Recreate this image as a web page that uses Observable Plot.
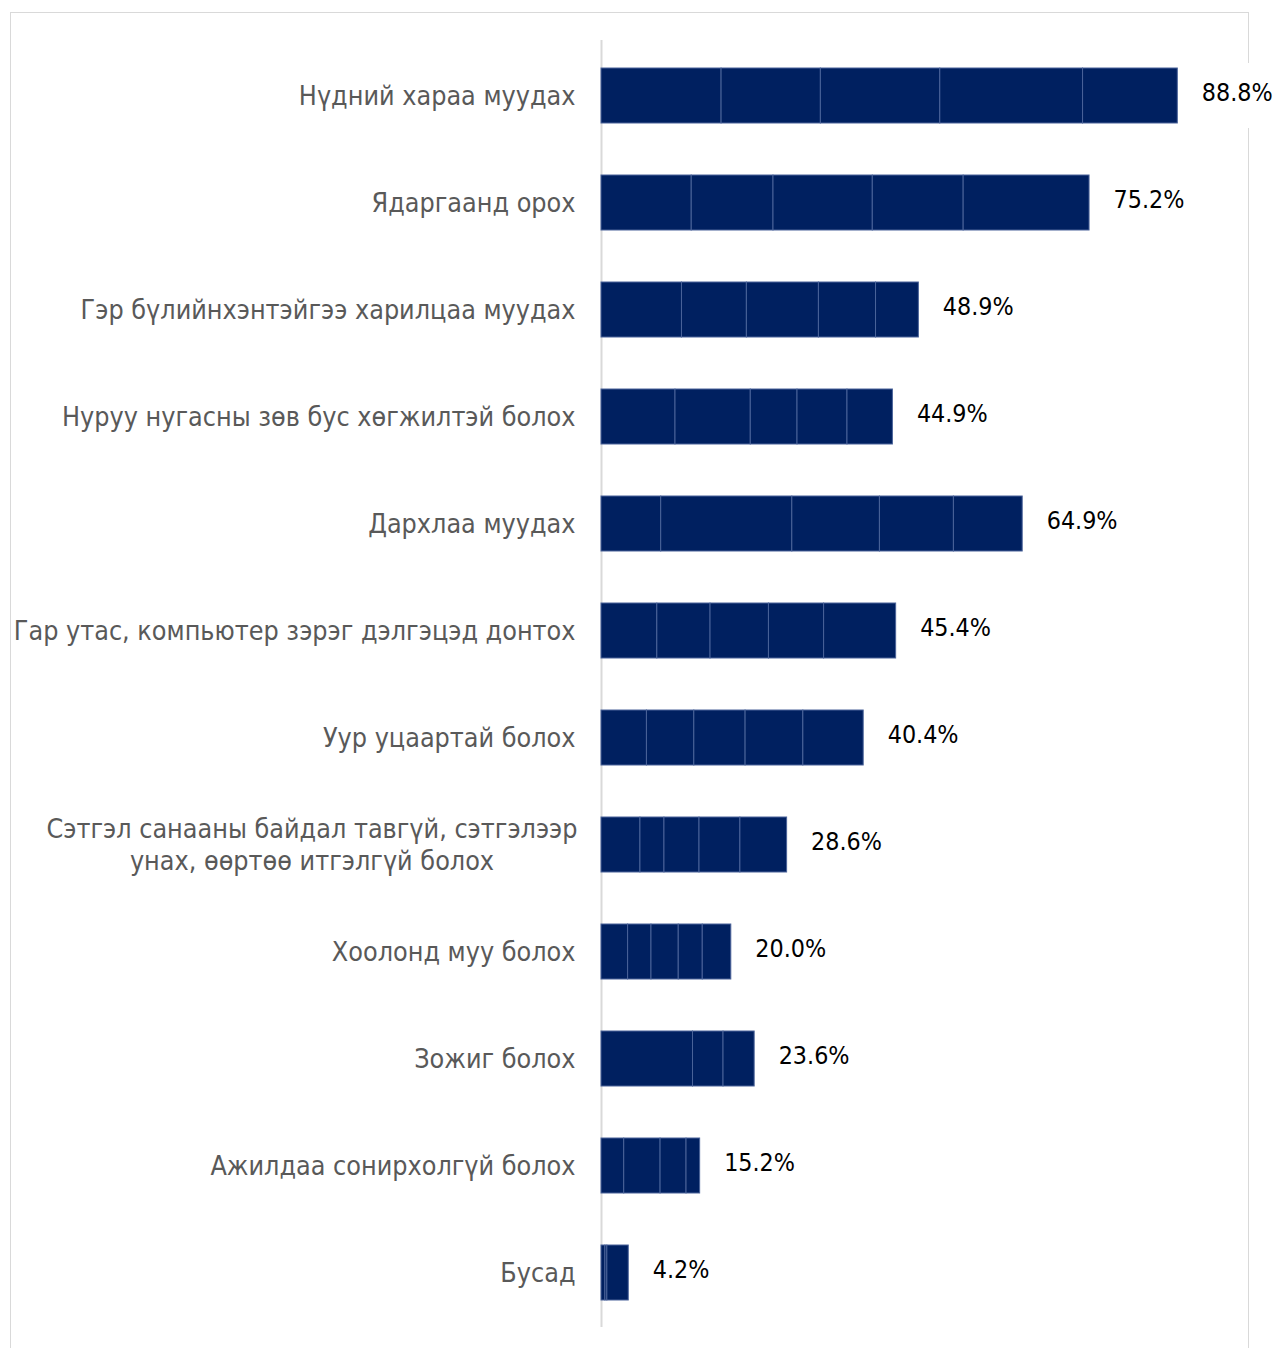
<!DOCTYPE html>
<html>
<head>
<meta charset="utf-8">
<script src="https://cdn.jsdelivr.net/npm/d3@7"></script>
<script src="https://cdn.jsdelivr.net/npm/@observablehq/plot@0.6"></script>
<style>
  html, body { margin: 0; padding: 0; background: white; }
  #wrap { position: relative; width: 1273px; height: 1348px; overflow: hidden; }
  #frame { position: absolute; left: 10px; top: 12px; width: 1239px; height: 1400px;
           border: 1.5px solid #d9d9d9; border-bottom: none; box-sizing: border-box; }
  #chart { position: absolute; left: 0; top: 0; }
</style>
</head>
<body>
<div id="wrap"><div id="frame"></div><div id="chart"></div></div>
<script>
const categories = [
  "Нүдний хараа муудах",
  "Ядаргаанд орох",
  "Гэр бүлийнхэнтэйгээ харилцаа муудах",
  "Нуруу нугасны зөв бус хөгжилтэй болох",
  "Дархлаа муудах",
  "Гар утас, компьютер зэрэг дэлгэцэд донтох",
  "Уур уцаартай болох",
  "Сэтгэл санааны байдал тавгүй, сэтгэлээр\nунах, өөртөө итгэлгүй болох",
  "Хоолонд муу болох",
  "Зожиг болох",
  "Ажилдаа сонирхолгүй болох",
  "Бусад"
];
const totals = [88.8, 75.2, 48.9, 44.9, 64.9, 45.4, 40.4, 28.6, 20.0, 23.6, 15.2, 4.2];
// five stacked segments per bar (read from the segment dividers)
const seg1 = [18.5, 13.9, 12.4, 11.4,  9.2,  8.6, 7.0, 6.0, 4.1, 14.1, 3.5, 0.6];
const seg2 = [15.3, 12.6, 10.0, 11.6, 20.2,  8.2, 7.3, 3.7, 3.6,  0.0, 5.6, 0.3];
const seg3 = [18.4, 15.3, 11.1,  7.2, 13.5,  9.0, 7.9, 5.4, 4.2,  0.0, 4.0, 3.3];
const seg4 = [22.0, 14.0,  8.8,  7.7, 11.4,  8.5, 8.9, 6.3, 3.7,  4.7, 2.1, 0.0];
const seg5 = [14.6, 19.4,  6.6,  7.0, 10.6, 11.1, 9.3, 7.2, 4.4,  4.8, 0.0, 0.0];

const series = [seg1, seg2, seg3, seg4, seg5];
const table = [];
categories.forEach((c, i) => series.forEach((s, k) => table.push({category: c, part: k, value: s[i]})));
const labels = categories.map((c, i) => ({category: c, total: totals[i]}));

const FONT = "DejaVu Sans Condensed";
const LABEL_SIZE = 26.7;
const GAP = 26;
const ctx = document.createElement("canvas").getContext("2d");
ctx.font = `${LABEL_SIZE}px "${FONT}"`;
function blockWidth(t) { return Math.max(...t.split("\n").map(l => ctx.measureText(l).width)); }

const single = categories.filter(c => !c.includes("\n"));
const multi = categories.filter(c => c.includes("\n"));
const mw = multi.length ? blockWidth(multi[0]) : 0;

const chart = Plot.plot({
  width: 1273,
  height: 1348,
  marginLeft: 601,
  marginRight: 23,
  marginTop: 40,
  marginBottom: 21,
  style: {background: "transparent", overflow: "visible", fontFamily: FONT},
  x: {domain: [0, 100], axis: null},
  y: {domain: categories, paddingInner: 0.487, paddingOuter: 0.2435, axis: null},
  marks: [
    Plot.ruleX([0], {stroke: "#d9d9d9", strokeWidth: 2}),
    Plot.barX(labels, {x1: "total", x2: "total", y: "category", fill: "white",
      insetLeft: -14, insetRight: -110, insetTop: -5, insetBottom: -5}),
    Plot.barX(table, Plot.stackX({x: "value", y: "category", fill: "#002060",
      stroke: "#4a6399", strokeWidth: 1})),
    Plot.text(single, {x: 0, y: d => d, text: d => d, textAnchor: "end", dx: -GAP,
      fontSize: LABEL_SIZE, fill: "#595959"}),
    Plot.text(multi, {x: 0, y: d => d, text: d => d, textAnchor: "middle",
      dx: -(GAP + mw / 2) + 2, dy: -1, fontSize: LABEL_SIZE, fill: "#595959", lineHeight: 1.2}),
    Plot.text(labels, {x: "total", y: "category", text: d => d.total.toFixed(1) + "%",
      textAnchor: "start", dx: 24, dy: -3, fontSize: 24.8, fill: "#000000"})
  ]
});
document.getElementById("chart").appendChild(chart);
</script>
</body>
</html>
